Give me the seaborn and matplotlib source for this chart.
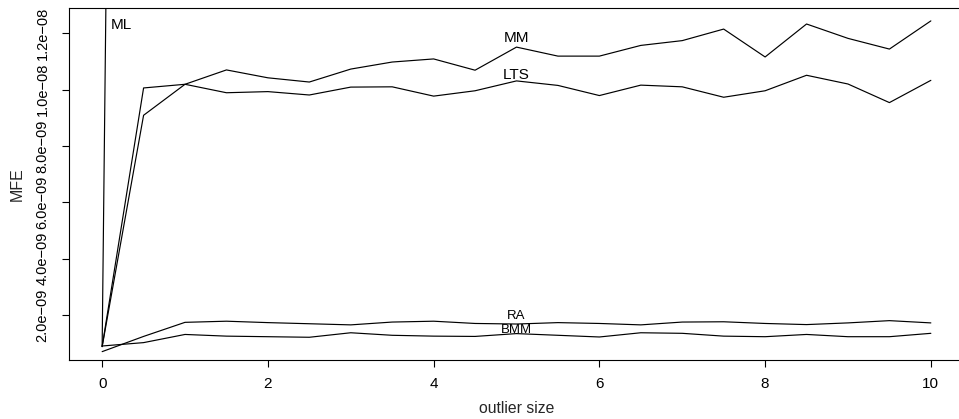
import numpy as np
import pandas as pd
import matplotlib
matplotlib.use("Agg")
import matplotlib.pyplot as plt
import seaborn as sns

# ---- data (values in units of 1e-9) ----
outlier_size = [0, 0.5, 1, 1.5, 2, 2.5, 3, 3.5, 4, 4.5, 5, 5.5, 6, 6.5, 7, 7.5, 8, 8.5, 9, 9.5, 10]
ml = [0.88, 135, 134, 136, 135, 134, 135, 136, 135, 134, 135, 136, 135, 134, 135, 136, 135, 134, 135, 136, 135]
mm = [0.88, 9.09, 10.19, 10.70, 10.42, 10.27, 10.73, 10.98, 11.09, 10.69, 11.51, 11.19, 11.19, 11.57, 11.74, 12.15, 11.16, 12.33, 11.82, 11.44, 12.44]
lts = [0.88, 10.06, 10.19, 9.89, 9.93, 9.81, 10.09, 10.10, 9.77, 9.96, 10.31, 10.15, 9.79, 10.16, 10.10, 9.73, 9.96, 10.51, 10.20, 9.54, 10.33]
ra = [0.70, 1.24, 1.74, 1.78, 1.73, 1.69, 1.65, 1.75, 1.78, 1.70, 1.68, 1.73, 1.70, 1.65, 1.75, 1.76, 1.70, 1.66, 1.72, 1.80, 1.72]
bmm = [0.90, 1.02, 1.31, 1.25, 1.23, 1.21, 1.37, 1.28, 1.25, 1.24, 1.34, 1.28, 1.22, 1.37, 1.35, 1.25, 1.23, 1.31, 1.23, 1.23, 1.35]
series_names = ["ML", "MM", "LTS", "RA", "BMM"]
# label anchor positions (x, y in 1e-9)
label_x = [0.23, 5.0, 5.0, 5.0, 5.0]
label_y = [12.29, 11.83, 10.52, 1.96, 1.47]
label_size = [11, 11, 11, 9.5, 9.5]
ytick_vals = [2, 4, 6, 8, 10, 12]
ytick_labels = ["2.0e\u221209", "4.0e\u221209", "6.0e\u221209", "8.0e\u221209", "1.0e\u221208", "1.2e\u221208"]
xtick_vals = [0, 2, 4, 6, 8, 10]

scale = 1e-9
series = [ml, mm, lts, ra, bmm]
rows = []
for name, vals in zip(series_names, series):
    for x, v in zip(outlier_size, vals):
        rows.append({"method": name, "outlier size": x, "MFE": v * scale})
df = pd.DataFrame(rows)

sns.set_style("white")
plt.rcParams["font.family"] = ["Liberation Sans", "DejaVu Sans"]

W, H = 959, 419
fig = plt.figure(figsize=(W / 100, H / 100), dpi=100)
ax = fig.add_axes([69 / W, (H - 360) / H, (964 - 69) / W, (360 - 8) / H])

for name in series_names:
    sub = df[df["method"] == name]
    sns.lineplot(data=sub, x="outlier size", y="MFE", ax=ax, color="black",
                 linewidth=0.85, estimator=None, legend=False)

for name, lx, ly, fs in zip(series_names, label_x, label_y, label_size):
    ax.text(lx, ly * scale, name, ha="center", va="center", fontsize=fs, color="black")

ax.set_xlim(-0.4, 10.4)
ax.set_ylim(0.403e-9, 12.898e-9)
ax.set_xticks(xtick_vals)
ax.set_xticklabels([str(v) for v in xtick_vals])
ax.set_yticks([v * scale for v in ytick_vals])
ax.set_yticklabels(ytick_labels, rotation=90, va="center")
ax.tick_params(axis="both", direction="out", length=5, width=0.8,
               color="black", labelcolor="black", bottom=True, left=True)
ax.tick_params(axis="x", pad=7, labelsize=11)
ax.tick_params(axis="y", pad=9, labelsize=10.5)
for s in ax.spines.values():
    s.set_visible(True)
    s.set_color("black")
    s.set_linewidth(0.8)

ax.set_xlabel("outlier size", fontsize=11.3)
ax.set_ylabel("MFE", fontsize=11.5)
ax.xaxis.set_label_coords(0.5, (360 - 401) / 352)
ax.yaxis.set_label_coords((25 - 69) / 895, 0.5)

fig.savefig("out.png", dpi=100)
